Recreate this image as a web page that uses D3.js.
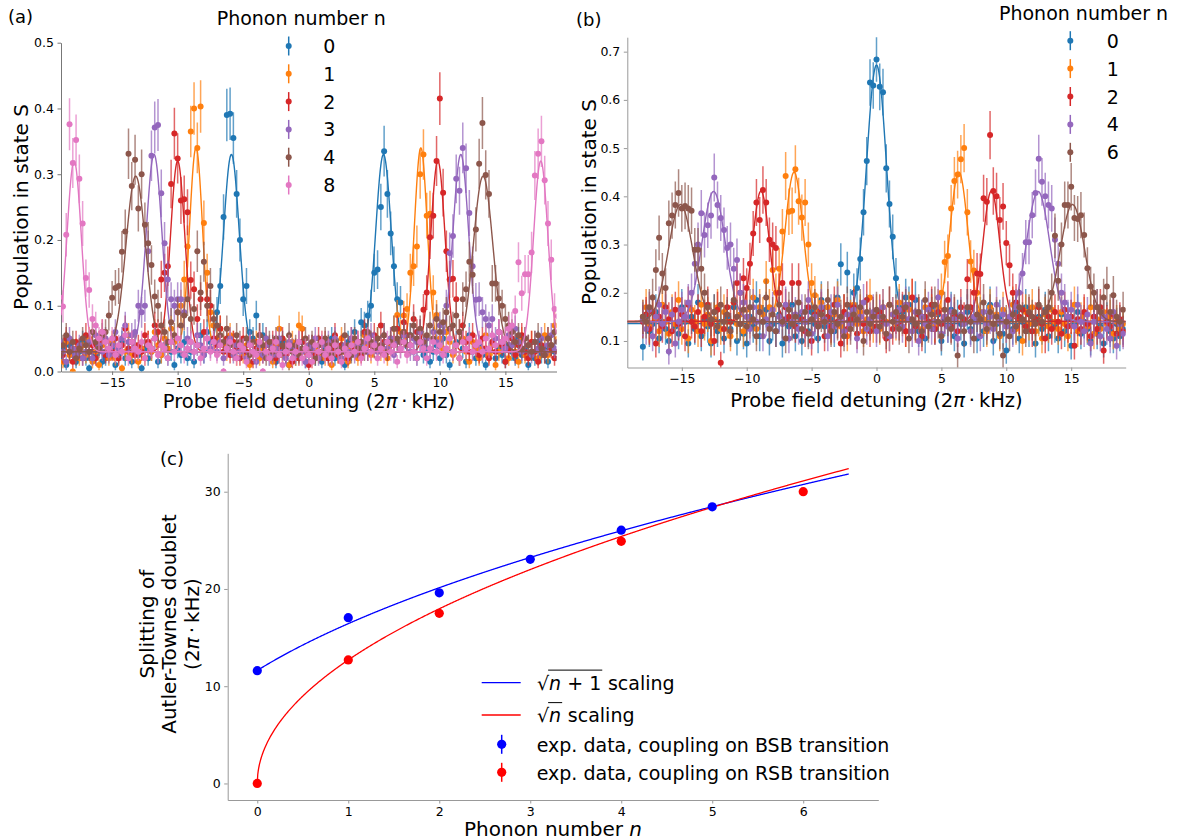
<!DOCTYPE html>
<html>
<head>
<meta charset="utf-8">
<script src="https://cdn.jsdelivr.net/npm/d3@7"></script>
<style>
  body { margin: 0; background: #fff; }
  svg text { font-family: "DejaVu Sans", sans-serif; fill: #000; }
</style>
</head>
<body>
<script>
// ---------- (a) spectra, coupling on the blue sideband ----------
const phononA = [0, 1, 2, 3, 4, 8];
const detuningStartA = -19;   // kHz, first scan point
const detuningStepA = 0.25;   // kHz
const shotsA = 150;

const popA0 = [
.020,.035,.010,.040,.025,.015,.030,.045,
.020,.005,.030,.025,.040,.015,.020,.030,
.035,.010,.025,.045,.020,.030,.015,.040,
.025,.005,.035,.020,.030,.050,.015,.025,
.040,.020,.030,.010,.035,.025,.045,.020,
.030,.015,.040,.055,.025,.060,.045,.070,
.090,.130,.235,.390,.392,.355,.270,.200,
.110,.130,.060,.050,.085,.040,.055,.030,
.020,.040,.015,.030,.045,.025,.010,.035,
.020,.030,.045,.015,.025,.040,.020,.030,
.015,.035,.025,.050,.020,.030,.040,.010,
.045,.030,.060,.040,.075,.070,.085,.100,
.150,.155,.250,.335,.270,.210,.160,.110,
.105,.060,.040,.055,.030,.020,.045,.025,
.035,.015,.030,.040,.020,.050,.025,.010,
.030,.045,.020,.035,.015,.055,.030,.020,
.040,.025,.010,.030,.045,.020,.035,.025,
.015,.040,.030,.020,.050,.025,.035,.010,
.030,.020,.045,.025,.035,.015,.040,.030,
.020];
const popA1 = [
.030,.015,.045,.025,.000,.035,.020,.040,
.025,.050,.015,.030,.010,.040,.030,.020,
.045,.020,.035,.005,.030,.055,.025,.040,
.015,.035,.020,.045,.030,.060,.040,.025,
.050,.035,.065,.045,.090,.100,.140,.190,
.365,.400,.340,.403,.226,.150,.090,.070,
.050,.065,.040,.030,.055,.045,.020,.035,
.025,.040,.010,.030,.045,.020,.035,.050,
.030,.015,.040,.065,.025,.035,.010,.045,
.020,.070,.065,.030,.040,.015,.035,.025,
.045,.020,.030,.010,.040,.025,.050,.030,
.015,.035,.045,.020,.030,.055,.040,.025,
.035,.050,.030,.045,.020,.040,.065,.086,
.060,.085,.095,.150,.160,.190,.300,.330,
.237,.240,.120,.086,.050,.035,.060,.045,
.025,.040,.020,.050,.030,.015,.045,.035,
.020,.035,.055,.025,.040,.010,.030,.045,
.035,.020,.040,.030,.015,.050,.025,.040,
.045,.030,.020,.035,.055,.025,.040,.070,
.050];
const popA2 = [
.040,.025,.050,.030,.015,.045,.035,.020,
.055,.030,.040,.020,.045,.060,.025,.035,
.030,.050,.020,.040,.065,.035,.045,.025,
.040,.030,.055,.045,.035,.070,.060,.140,
.150,.160,.285,.362,.324,.260,.262,.242,
.139,.125,.080,.110,.060,.110,.100,.050,
.040,.065,.030,.050,.025,.045,.035,.020,
.050,.030,.040,.015,.035,.055,.025,.040,
.030,.045,.020,.035,.050,.025,.040,.015,
.035,.020,.045,.030,.010,.040,.025,.050,
.030,.045,.020,.035,.055,.025,.040,.030,
.020,.050,.035,.045,.025,.060,.030,.040,
.055,.035,.070,.045,.030,.050,.040,.065,
.045,.075,.055,.040,.080,.060,.060,.094,
.120,.204,.237,.320,.415,.272,.183,.140,
.141,.110,.060,.070,.045,.030,.055,.040,
.025,.050,.035,.020,.045,.030,.060,.040,
.015,.035,.050,.025,.040,.055,.030,.020,
.045,.030,.015,.040,.025,.050,.035,.020,
.030];
const popA3 = [
.045,.030,.015,.050,.035,.025,.040,.020,
.030,.045,.020,.055,.040,.030,.050,.025,
.040,.060,.035,.050,.070,.045,.055,.060,
.100,.090,.100,.183,.328,.371,.375,.271,
.195,.140,.110,.100,.110,.110,.090,.050,
.045,.030,.055,.040,.025,.050,.035,.045,
.030,.045,.020,.035,.050,.025,.040,.030,
.035,.020,.045,.030,.015,.040,.025,.050,
.040,.025,.035,.050,.030,.020,.045,.035,
.025,.045,.030,.015,.040,.035,.050,.020,
.040,.030,.045,.025,.050,.035,.020,.040,
.030,.050,.025,.040,.035,.045,.030,.055,
.045,.030,.040,.055,.035,.050,.025,.045,
.035,.055,.040,.030,.050,.045,.060,.040,
.050,.035,.060,.045,.070,.060,.100,.180,
.206,.293,.275,.340,.309,.241,.160,.109,
.110,.090,.080,.070,.080,.050,.060,.045,
.035,.055,.040,.065,.045,.030,.050,.040,
.025,.045,.035,.050,.030,.040,.055,.035,
.045];
const popA4 = [
.025,.040,.055,.030,.045,.020,.035,.050,
.040,.030,.060,.045,.035,.055,.060,.085,
.112,.127,.130,.182,.213,.331,.282,.322,
.248,.300,.223,.195,.162,.114,.100,.070,
.060,.045,.075,.055,.090,.070,.085,.110,
.080,.095,.183,.120,.167,.100,.130,.080,
.070,.055,.045,.065,.040,.030,.055,.045,
.035,.050,.025,.045,.030,.055,.040,.020,
.045,.030,.050,.025,.040,.035,.055,.030,
.040,.025,.035,.050,.030,.045,.020,.040,
.030,.050,.040,.025,.045,.035,.030,.055,
.040,.025,.050,.035,.045,.030,.060,.045,
.035,.050,.040,.055,.030,.045,.065,.050,
.045,.060,.040,.055,.070,.050,.065,.045,
.055,.070,.050,.080,.060,.075,.090,.065,
.070,.085,.060,.110,.125,.167,.147,.216,
.316,.378,.299,.270,.134,.134,.111,.100,
.080,.070,.060,.045,.055,.035,.050,.040,
.030,.045,.055,.035,.025,.050,.040,.060,
.045];
const popA8 = [
.113,.099,.208,.376,.317,.352,.293,.225,
.142,.124,.080,.070,.050,.060,.045,.035,
.050,.025,.040,.030,.055,.020,.045,.035,
.030,.045,.020,.040,.035,.050,.025,.040,
.035,.020,.045,.030,.050,.040,.025,.035,
.045,.030,.040,.020,.035,.050,.030,.045,
.025,.040,.000,.035,.045,.030,.020,.040,
.035,.015,.040,.030,.025,.045,.000,.030,
.020,.035,.045,.025,.010,.030,.040,.020,
.030,.045,.020,.035,.025,.015,.040,.030,
.045,.025,.035,.020,.040,.030,.015,.035,
.025,.040,.030,.045,.020,.035,.050,.030,
.040,.020,.035,.025,.045,.030,.040,.015,
.035,.045,.025,.040,.030,.020,.045,.035,
.020,.035,.045,.030,.040,.025,.035,.050,
.030,.040,.020,.045,.035,.050,.030,.040,
.045,.030,.050,.035,.055,.040,.060,.045,
.050,.065,.070,.092,.166,.119,.148,.148,
.181,.298,.331,.350,.291,.225,.170,.095,
.084];

// doublet fits: peak centres (kHz), heights, gaussian widths, background
const fitPeaksA  = [[-5.9, 5.7], [-8.6, 8.55], [-10.0, 9.85], [-11.8, 11.6], [-13.2, 13.3], [-17.9, 17.7]];
const fitHeightA = [0.30, 0.31, 0.29, 0.30, 0.267, 0.29];
const fitWidthA  = [0.6, 0.5, 0.55, 0.6, 0.75, 0.55];
const fitBackA   = [0.03, 0.03, 0.03, 0.03, 0.03, 0.03];

// ---------- (b) spectra, coupling on the red sideband ----------
const phononB = [0, 1, 2, 4, 6];
const detuningStartB = -18;
const detuningStepB = 0.25;
const shotsB = 100;

const popB0 = [
.088,.150,.120,.135,.160,.105,.140,.125,
.100,.155,.130,.115,.170,.140,.095,.150,
.125,.180,.110,.145,.130,.095,.160,.120,
.140,.105,.150,.125,.170,.100,.135,.115,
.095,.150,.130,.185,.110,.140,.165,.100,
.135,.120,.155,.095,.145,.130,.175,.110,
.150,.100,.140,.120,.160,.135,.105,.185,
.130,.170,.145,.120,.190,.259,.160,.242,
.170,.200,.210,.270,.367,.473,.636,.630,
.684,.627,.616,.458,.384,.316,.230,.170,
.160,.190,.175,.140,.185,.120,.150,.105,
.140,.170,.125,.155,.100,.145,.130,.165,
.110,.150,.135,.095,.160,.125,.145,.105,
.155,.120,.140,.175,.100,.135,.150,.115,
.080,.145,.125,.160,.105,.140,.170,.120,
.135,.095,.150,.125,.165,.110,.140,.130,
.105,.155,.120,.145,.090,.135,.160,.115,
.140,.125,.100,.150,.115,.130,.095,.145,
.120,.105,.135,.110,
.125];
const popB1 = [
.150,.170,.130,.160,.145,.120,.175,.140,
.115,.160,.135,.185,.125,.150,.105,.165,
.140,.120,.175,.135,.155,.100,.145,.170,
.125,.160,.140,.110,.180,.135,.155,.120,
.165,.140,.190,.125,.170,.155,.224,.170,
.247,.200,.250,.327,.442,.368,.370,.456,
.390,.356,.387,.300,.220,.195,.160,.180,
.140,.170,.125,.155,.185,.130,.160,.110,
.150,.175,.135,.160,.120,.145,.190,.130,
.160,.125,.170,.140,.110,.155,.135,.180,
.145,.120,.165,.190,.135,.155,.125,.170,
.140,.160,.130,.170,.200,.264,.276,.375,
.432,.445,.477,.500,.367,.265,.246,.200,
.160,.145,.120,.170,.135,.155,.110,.165,
.130,.150,.175,.125,.145,.100,.160,.135,
.170,.120,.145,.105,.155,.130,.165,.140,
.125,.160,.135,.110,.150,.175,.120,.145,
.155,.130,.170,.115,.145,.125,.160,.135,
.150,.115,.140,.125,
.135];
const popB2 = [
.140,.155,.125,.160,.095,.150,.130,.170,
.145,.120,.165,.135,.155,.110,.175,.140,
.130,.160,.120,.150,.175,.135,.100,.165,
.055,.125,.170,.140,.180,.220,.200,.230,
.210,.260,.323,.387,.351,.413,.387,.310,
.300,.293,.200,.220,.170,.150,.220,.130,
.220,.145,.120,.170,.100,.155,.135,.165,
.110,.150,.130,.175,.140,.095,.160,.125,
.145,.170,.115,.150,.135,.185,.120,.155,
.130,.160,.140,.105,.175,.125,.150,.135,
.165,.120,.145,.190,.130,.155,.110,.150,
.140,.175,.125,.160,.135,.150,.185,.130,
.155,.120,.170,.145,.228,.170,.200,.240,
.239,.396,.389,.527,.411,.400,.351,.379,
.303,.257,.200,.180,.150,.165,.130,.155,
.120,.145,.170,.135,.105,.150,.125,.160,
.140,.115,.165,.130,.150,.090,.145,.125,
.160,.135,.110,.150,.125,.170,.080,.140,
.130,.155,.115,.145,
.120];
const popB4 = [
.145,.125,.165,.110,.150,.175,.135,.160,
.078,.155,.095,.140,.165,.150,.180,.200,
.260,.300,.365,.320,.340,.360,.439,.382,
.355,.330,.293,.300,.250,.268,.200,.180,
.150,.125,.170,.140,.160,.110,.145,.130,
.165,.120,.150,.135,.175,.105,.140,.155,
.125,.160,.140,.185,.115,.150,.130,.170,
.145,.110,.160,.130,.175,.140,.120,.155,
.135,.165,.105,.150,.180,.125,.145,.160,
.120,.150,.170,.135,.110,.155,.140,.165,
.130,.175,.145,.120,.160,.100,.150,.135,
.165,.125,.140,.190,.115,.150,.130,.160,
.145,.105,.155,.135,.170,.120,.150,.140,
.110,.160,.135,.150,.125,.175,.140,.155,
.130,.150,.120,.170,.200,.240,.305,.305,
.361,.407,.478,.430,.400,.382,.375,.310,
.260,.200,.180,.150,.165,.130,.175,.140,
.120,.155,.095,.140,.170,.110,.150,.125,
.105,.160,.090,.135,
.115];
const popB6 = [
.150,.140,.170,.190,.247,.314,.240,.210,
.344,.360,.382,.407,.375,.380,.375,.370,
.289,.289,.250,.200,.170,.145,.160,.130,
.175,.140,.155,.120,.185,.150,.135,.165,
.130,.170,.145,.110,.160,.140,.190,.125,
.155,.120,.175,.140,.105,.165,.135,.150,
.180,.125,.160,.115,.145,.170,.130,.155,
.140,.185,.120,.160,.135,.150,.110,.175,
.125,.155,.145,.170,.100,.160,.135,.150,
.165,.130,.150,.115,.175,.140,.160,.125,
.150,.170,.105,.145,.135,.160,.120,.185,
.130,.155,.175,.140,.110,.165,.145,.125,
.160,.070,.150,.120,.170,.140,.105,.155,
.145,.180,.125,.160,.135,.150,.115,.070,
.140,.110,.155,.130,.170,.145,.120,.160,
.150,.135,.175,.140,.160,.170,.200,.318,
.225,.300,.382,.382,.420,.355,.353,.361,
.320,.251,.213,.200,.170,.160,.190,.213,
.160,.195,.150,.140,
.165];

const fitPeaksB  = [[0], [-6.35, 6.35], [-8.9, 8.85], [-12.55, 12.45], [-15.1, 15.1]];
const fitHeightB = [0.536, 0.31, 0.27, 0.27, 0.243];
const fitWidthB  = [0.78, 0.7, 0.65, 0.9, 0.95];
const fitBackB   = [0.136, 0.14, 0.141, 0.14, 0.14];

// ---------- (c) Autler-Townes splitting versus phonon number ----------
const phononBsb = [0, 1, 2, 3, 4, 5];
const splitBsb  = [11.6, 17.05, 19.6, 23.05, 26.05, 28.45];
const errBsb    = [0.3, 0.3, 0.3, 0.3, 0.3, 0.3];
const phononRsb = [0, 1, 2, 4, 6];
const splitRsb  = [0.0, 12.7, 17.5, 24.9, 30.0];
const errRsb    = [0.3, 0.3, 0.3, 0.3, 0.3];
const scaleBsb = 11.62;   // kHz, coefficient of sqrt(n+1)
const scaleRsb = 12.7;    // kHz, coefficient of sqrt(n)
const nMaxCurve = 6.5;

const detuningTicks = [-15, -10, -5, 0, 5, 10, 15];
const tab10 = ["#1f77b4", "#ff7f0e", "#d62728", "#9467bd", "#8c564b", "#e377c2"];

// ------------------------------------------------------------------
const TICK_FONT = 12.5;
const svg = d3.select("body").append("svg")
  .attr("width", 1177).attr("height", 840);
const defs = svg.append("defs");

function styleAxis(sel, color) {
  sel.attr("font-family", "DejaVu Sans, sans-serif");
  sel.select(".domain").attr("stroke", color).attr("stroke-width", 1);
  sel.selectAll(".tick line").attr("stroke", color).attr("stroke-width", 1);
  sel.selectAll(".tick text").attr("font-size", TICK_FONT).attr("fill", "#000");
}

function model(x, peaks, h, s, b) {
  let v = b;
  peaks.forEach(c => { v += h * Math.exp(-((x - c) ** 2) / (2 * s * s)); });
  return v;
}

function scanPanel(cfg) {
  const { x, y, series, start, step, shots, peaks, heights, widths, backs, colors, clipId, spine, yTicks } = cfg;
  const [x0, x1] = x.range();
  const [yb, yt] = y.range();
  defs.append("clipPath").attr("id", clipId).append("rect")
    .attr("x", x0).attr("y", yt).attr("width", x1 - x0).attr("height", yb - yt);

  const gx = svg.append("g").attr("transform", `translate(0,${yb})`)
    .call(d3.axisBottom(x).tickValues(detuningTicks).tickSize(3.5).tickPadding(3.5).tickSizeOuter(0));
  styleAxis(gx, spine);
  const gy = svg.append("g").attr("transform", `translate(${x0},0)`)
    .call(d3.axisLeft(y).tickValues(yTicks).tickFormat(d3.format(".1f")).tickSize(3.5).tickPadding(3.5).tickSizeOuter(0));
  styleAxis(gy, spine);

  const plot = svg.append("g").attr("clip-path", `url(#${clipId})`);
  const xs = d3.range(x.domain()[0], x.domain()[1] + 1e-9, 0.02);
  series.forEach((vals, k) => {
    const col = colors[k];
    const pts = vals.map((p, i) => ({
      d: start + step * i, p,
      e: Math.sqrt(Math.max(p * (1 - p), 0.004) / shots)
    }));
    const g = plot.append("g");
    g.append("path").datum(xs)
      .attr("d", d3.line().x(v => x(v)).y(v => y(model(v, peaks[k], heights[k], widths[k], backs[k]))))
      .attr("fill", "none").attr("stroke", col).attr("stroke-width", 1.4);
    g.selectAll("line.err").data(pts).join("line").attr("class", "err")
      .attr("x1", d => x(d.d)).attr("x2", d => x(d.d))
      .attr("y1", d => y(d.p - d.e)).attr("y2", d => y(d.p + d.e))
      .attr("stroke", col).attr("stroke-width", 1.5).attr("stroke-opacity", 0.7);
    g.selectAll("circle").data(pts).join("circle")
      .attr("cx", d => x(d.d)).attr("cy", d => y(d.p)).attr("r", 3)
      .attr("fill", col);
  });
}

function detuningLabel(cx, cy) {
  const t = svg.append("text").attr("x", cx).attr("y", cy)
    .attr("text-anchor", "middle").attr("font-size", 19.5);
  t.append("tspan").text("Probe field detuning (2");
  t.append("tspan").attr("font-style", "italic").text("\u03C0");
  t.append("tspan").text("\u2009\u00B7\u2009kHz)");
}

function rotatedLabel(cx, cy, text, size) {
  svg.append("text").attr("transform", `translate(${cx},${cy}) rotate(-90)`)
    .attr("text-anchor", "middle").attr("font-size", size).text(text);
}

function scanLegend(x0, y0, dy, labelX, titleX, titleY, labels, colors) {
  svg.append("text").attr("x", titleX).attr("y", titleY).attr("font-size", 19).text("Phonon number n");
  labels.forEach((lab, i) => {
    const cy = y0 + i * dy;
    svg.append("line").attr("x1", x0).attr("x2", x0).attr("y1", cy - 9.5).attr("y2", cy + 9.5)
      .attr("stroke", colors[i]).attr("stroke-width", 1.5);
    svg.append("circle").attr("cx", x0).attr("cy", cy).attr("r", 3).attr("fill", colors[i]);
    svg.append("text").attr("x", labelX).attr("y", cy + 7).attr("font-size", 19).text(lab);
  });
}

// ---------- panel (a) ----------
const xA = d3.scaleLinear().domain([-18.9, 18.9]).range([61, 556.5]);
const yA = d3.scaleLinear().domain([0, 0.5]).range([371.5, 42.7]);
scanPanel({
  x: xA, y: yA, series: [popA0, popA1, popA2, popA3, popA4, popA8],
  start: detuningStartA, step: detuningStepA, shots: shotsA,
  peaks: fitPeaksA, heights: fitHeightA, widths: fitWidthA, backs: fitBackA,
  colors: tab10, clipId: "clipA", spine: "#777", yTicks: [0, 0.1, 0.2, 0.3, 0.4, 0.5]
});
detuningLabel(309, 407.5);
rotatedLabel(28, 207, "Population in state S", 20);
svg.append("text").attr("x", 8).attr("y", 22.5).attr("font-size", 18).text("(a)");
scanLegend(288.7, 46, 27.8, 323.3, 216.7, 25, phononA.map(String), tab10);

// ---------- panel (b) ----------
const xB = d3.scaleLinear().domain([-19.2, 19.2]).range([627.3, 1125.7]);
const yB = d3.scaleLinear().domain([0.045, 0.73]).range([367.5, 37.2]);
scanPanel({
  x: xB, y: yB, series: [popB0, popB1, popB2, popB4, popB6],
  start: detuningStartB, step: detuningStepB, shots: shotsB,
  peaks: fitPeaksB, heights: fitHeightB, widths: fitWidthB, backs: fitBackB,
  colors: tab10.slice(0, 5), clipId: "clipB", spine: "#999", yTicks: [0.1, 0.2, 0.3, 0.4, 0.5, 0.6, 0.7]
});
detuningLabel(876.5, 406.5);
rotatedLabel(596, 202, "Population in state S", 20);
svg.append("text").attr("x", 576).attr("y", 25.5).attr("font-size", 18).text("(b)");
scanLegend(1070.3, 40.7, 27.9, 1106.7, 999, 19.5, phononB.map(String), tab10.slice(0, 5));

// ---------- panel (c) ----------
const xC = d3.scaleLinear().domain([-0.325, 6.825]).range([227.7, 878.3]);
const yC = d3.scaleLinear().domain([-1.7, 33.95]).range([800, 453.3]);
const gxC = svg.append("g").attr("transform", "translate(0,800)")
  .call(d3.axisBottom(xC).tickValues([0, 1, 2, 3, 4, 5, 6]).tickSize(3.5).tickPadding(3.5).tickSizeOuter(0));
styleAxis(gxC, "#999");
const gyC = svg.append("g").attr("transform", "translate(227.7,0)")
  .call(d3.axisLeft(yC).tickValues([0, 10, 20, 30]).tickSize(3.5).tickPadding(3.5).tickSizeOuter(0));
styleAxis(gyC, "#999");

const nCurve = d3.range(0, nMaxCurve + 1e-9, 0.005);
svg.append("path").datum(nCurve)
  .attr("d", d3.line().x(n => xC(n)).y(n => yC(scaleBsb * Math.sqrt(n + 1))))
  .attr("fill", "none").attr("stroke", "#0000ff").attr("stroke-width", 1.3);
svg.append("path").datum(nCurve)
  .attr("d", d3.line().x(n => xC(n)).y(n => yC(scaleRsb * Math.sqrt(n))))
  .attr("fill", "none").attr("stroke", "#ff0000").attr("stroke-width", 1.3);

function splitPoints(ns, vals, errs, col) {
  const pts = ns.map((n, i) => ({ n, v: vals[i], e: errs[i] }));
  const g = svg.append("g");
  g.selectAll("line").data(pts).join("line")
    .attr("x1", d => xC(d.n)).attr("x2", d => xC(d.n))
    .attr("y1", d => yC(d.v - d.e)).attr("y2", d => yC(d.v + d.e))
    .attr("stroke", col).attr("stroke-width", 1.5);
  g.selectAll("circle").data(pts).join("circle")
    .attr("cx", d => xC(d.n)).attr("cy", d => yC(d.v)).attr("r", 4.6).attr("fill", col);
}
splitPoints(phononBsb, splitBsb, errBsb, "#0000ff");
splitPoints(phononRsb, splitRsb, errRsb, "#ff0000");

// axis labels of (c)
[["Splitting of", 153.5], ["Autler-Townes doublet", 176], [null, 198.5]].forEach(([txt, bx]) => {
  const t = svg.append("text").attr("transform", `translate(${bx},624) rotate(-90)`)
    .attr("text-anchor", "middle").attr("font-size", 20);
  if (txt) t.text(txt);
  else {
    t.append("tspan").text("(2");
    t.append("tspan").attr("font-style", "italic").text("\u03C0");
    t.append("tspan").text("\u2009\u00B7\u2009kHz)");
  }
});
{
  const t = svg.append("text").attr("x", 553).attr("y", 836).attr("text-anchor", "middle").attr("font-size", 20);
  t.append("tspan").text("Phonon number ");
  t.append("tspan").attr("font-style", "italic").text("n");
}
svg.append("text").attr("x", 160).attr("y", 465).attr("font-size", 18).text("(c)");

// legend of (c)
function sqrtEntry(x0, yBase, parts, suffix, size) {
  const rad = svg.append("text").attr("x", x0).attr("y", yBase).attr("font-size", size).text("\u221A");
  const w = rad.node().getComputedTextLength();
  const body = svg.append("text").attr("x", x0 + w).attr("y", yBase).attr("font-size", size);
  parts.forEach(p => body.append("tspan").attr("font-style", p.it ? "italic" : null).text(p.t));
  const bw = body.node().getComputedTextLength();
  svg.append("line").attr("x1", x0 + w - 1).attr("x2", x0 + w + bw + 1)
    .attr("y1", yBase - size * 1.02).attr("y2", yBase - size * 1.02)
    .attr("stroke", "#000").attr("stroke-width", 1);
  svg.append("text").attr("x", x0 + w + bw + 1 + size * 0.3).attr("y", yBase).attr("font-size", size).text(suffix);
}
const legC = [
  { kind: "line", col: "#0000ff", cy: 682.7 },
  { kind: "line", col: "#ff0000", cy: 715 },
  { kind: "pt", col: "#0000ff", cy: 744.3, text: "exp. data, coupling on BSB transition" },
  { kind: "pt", col: "#ff0000", cy: 772.3, text: "exp. data, coupling on RSB transition" }
];
legC.forEach(e => {
  if (e.kind === "line") {
    svg.append("line").attr("x1", 481.7).attr("x2", 520.7).attr("y1", e.cy).attr("y2", e.cy)
      .attr("stroke", e.col).attr("stroke-width", 1.3);
  } else {
    svg.append("line").attr("x1", 501.7).attr("x2", 501.7).attr("y1", e.cy - 9.5).attr("y2", e.cy + 9.5)
      .attr("stroke", e.col).attr("stroke-width", 1.5);
    svg.append("circle").attr("cx", 501.7).attr("cy", e.cy).attr("r", 4.6).attr("fill", e.col);
    svg.append("text").attr("x", 536.7).attr("y", e.cy + 7.2).attr("font-size", 19).text(e.text);
  }
});
sqrtEntry(537, 689.5, [{ t: "n", it: true }, { t: " + 1" }], "scaling", 19);
sqrtEntry(537, 722, [{ t: "n", it: true }], "scaling", 19);
</script>
</body>
</html>
